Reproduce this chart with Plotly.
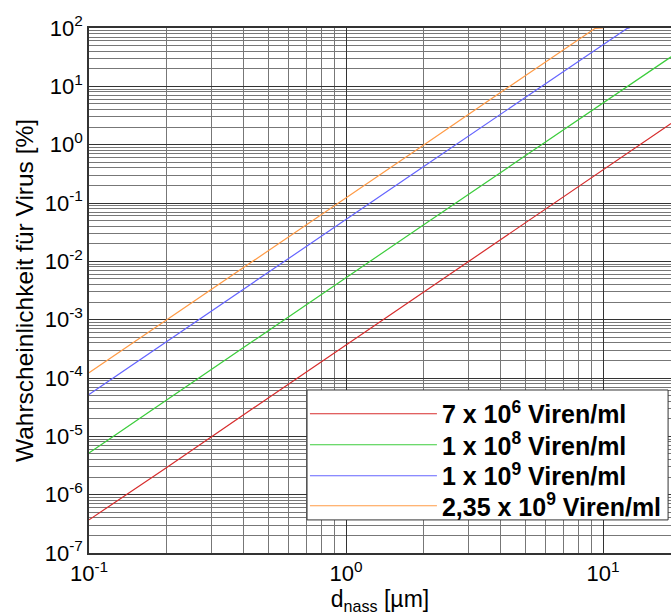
import plotly.graph_objects as go

# diameter values [µm] and probability values [%]
d_red = [0.1, 0.2, 0.5, 1, 2, 5, 10, 18.4]
p_red = [3.7e-7, 2.9e-6, 4.6e-5, 3.7e-4, 2.9e-3, 4.6e-2, 0.37, 2.3]

d_green = [0.1, 0.2, 0.5, 1, 2, 5, 10, 18.4]
p_green = [5.2e-6, 4.2e-5, 6.5e-4, 5.2e-3, 4.2e-2, 0.65, 5.2, 32]

d_blue = [0.1, 0.2, 0.5, 1, 2, 5, 10, 12, 12.4, 12.7]
p_blue = [5.2e-5, 4.2e-4, 6.5e-3, 5.2e-2, 0.42, 6.5, 52, 90, 98, 100]

d_orange = [0.1, 0.2, 0.5, 1, 2, 5, 9, 9.3, 10]
p_orange = [1.23e-4, 9.8e-4, 1.5e-2, 0.123, 0.98, 15.4, 89, 98, 100]

labels = ["7 x 10<sup>6</sup> Viren/ml", "1 x 10<sup>8</sup> Viren/ml",
          "1 x 10<sup>9</sup> Viren/ml", "2,35 x 10<sup>9</sup> Viren/ml"]
colors = ["rgb(215,45,45)", "rgb(60,205,60)", "rgb(100,100,255)", "rgb(255,155,70)"]

x_tickvals = [0.1, 1, 10]
x_ticktext = ["10<sup>-1</sup>", "10<sup>0</sup>", "10<sup>1</sup>"]
y_tickvals = [1e-7, 1e-6, 1e-5, 1e-4, 1e-3, 1e-2, 1e-1, 1, 10, 100]
y_ticktext = ["10<sup>-7</sup>", "10<sup>-6</sup>", "10<sup>-5</sup>", "10<sup>-4</sup>",
              "10<sup>-3</sup>", "10<sup>-2</sup>", "10<sup>-1</sup>", "10<sup>0</sup>",
              "10<sup>1</sup>", "10<sup>2</sup>"]

series = [(d_red, p_red), (d_green, p_green), (d_blue, p_blue), (d_orange, p_orange)]

font = "Liberation Sans, Arial, sans-serif"

# legend layout (paper coordinates)
leg_left, leg_right, leg_top, leg_bottom = 0.3746, 1.0, 0.3105, 0.063
leg_rows = [0.2648, 0.2057, 0.1467, 0.0895]
legend_names = ["legend", "legend2", "legend3", "legend4"]

fig = go.Figure()
for (xs, ys), name, col, lg in zip(series, labels, colors, legend_names):
    fig.add_trace(go.Scatter(x=xs, y=ys, mode="lines", name=name, legend=lg,
                             line=dict(color=col, width=1.2)))

legend_cfg = {}
for lg, ry in zip(legend_names, leg_rows):
    legend_cfg[lg] = dict(x=0.371, y=ry, xanchor="left", yanchor="middle",
                          bgcolor="rgba(0,0,0,0)", borderwidth=0,
                          font=dict(size=25, family=font, weight="bold", color="black"),
                          itemwidth=127)

fig.add_shape(type="rect", xref="paper", yref="paper",
              x0=leg_left, x1=leg_right - 0.005, y0=leg_bottom, y1=leg_top,
              fillcolor="white", line=dict(color="#333", width=1), layer="above")

fig.update_layout(
    width=671, height=615,
    margin=dict(l=89, r=0, t=28, b=62),
    paper_bgcolor="white", plot_bgcolor="white",
    font=dict(family=font, color="black"),
    showlegend=True,
    **legend_cfg,
    xaxis=dict(type="log", range=[-1, 1.2646],
               tickmode="array", tickvals=x_tickvals, ticktext=x_ticktext,
               tickfont=dict(size=22), ticks="", automargin=False,
               showgrid=True, gridcolor="#333", gridwidth=1.3,
               minor=dict(dtick="D1", showgrid=True, gridcolor="#777", gridwidth=1),
               showline=True, linecolor="#333", linewidth=1.5, mirror=True,
               zeroline=False,
               title=dict(text="d<sub>nass</sub> [µm]", font=dict(size=23), standoff=2)),
    yaxis=dict(type="log", range=[-7, 2],
               tickmode="array", tickvals=y_tickvals, ticktext=y_ticktext,
               tickfont=dict(size=22), ticks="", automargin=False,
               showgrid=True, gridcolor="#333", gridwidth=1.3,
               minor=dict(dtick="D1", showgrid=True, gridcolor="#777", gridwidth=1),
               showline=True, linecolor="#333", linewidth=1.5, mirror=True,
               zeroline=False,
               title=dict(text="Wahrscheinlichkeit für Virus [%]", font=dict(size=24.5), standoff=4)),
)

fig.write_html("out.html", config={"displayModeBar": False},
               post_script="document.body.style.margin='0px';")
